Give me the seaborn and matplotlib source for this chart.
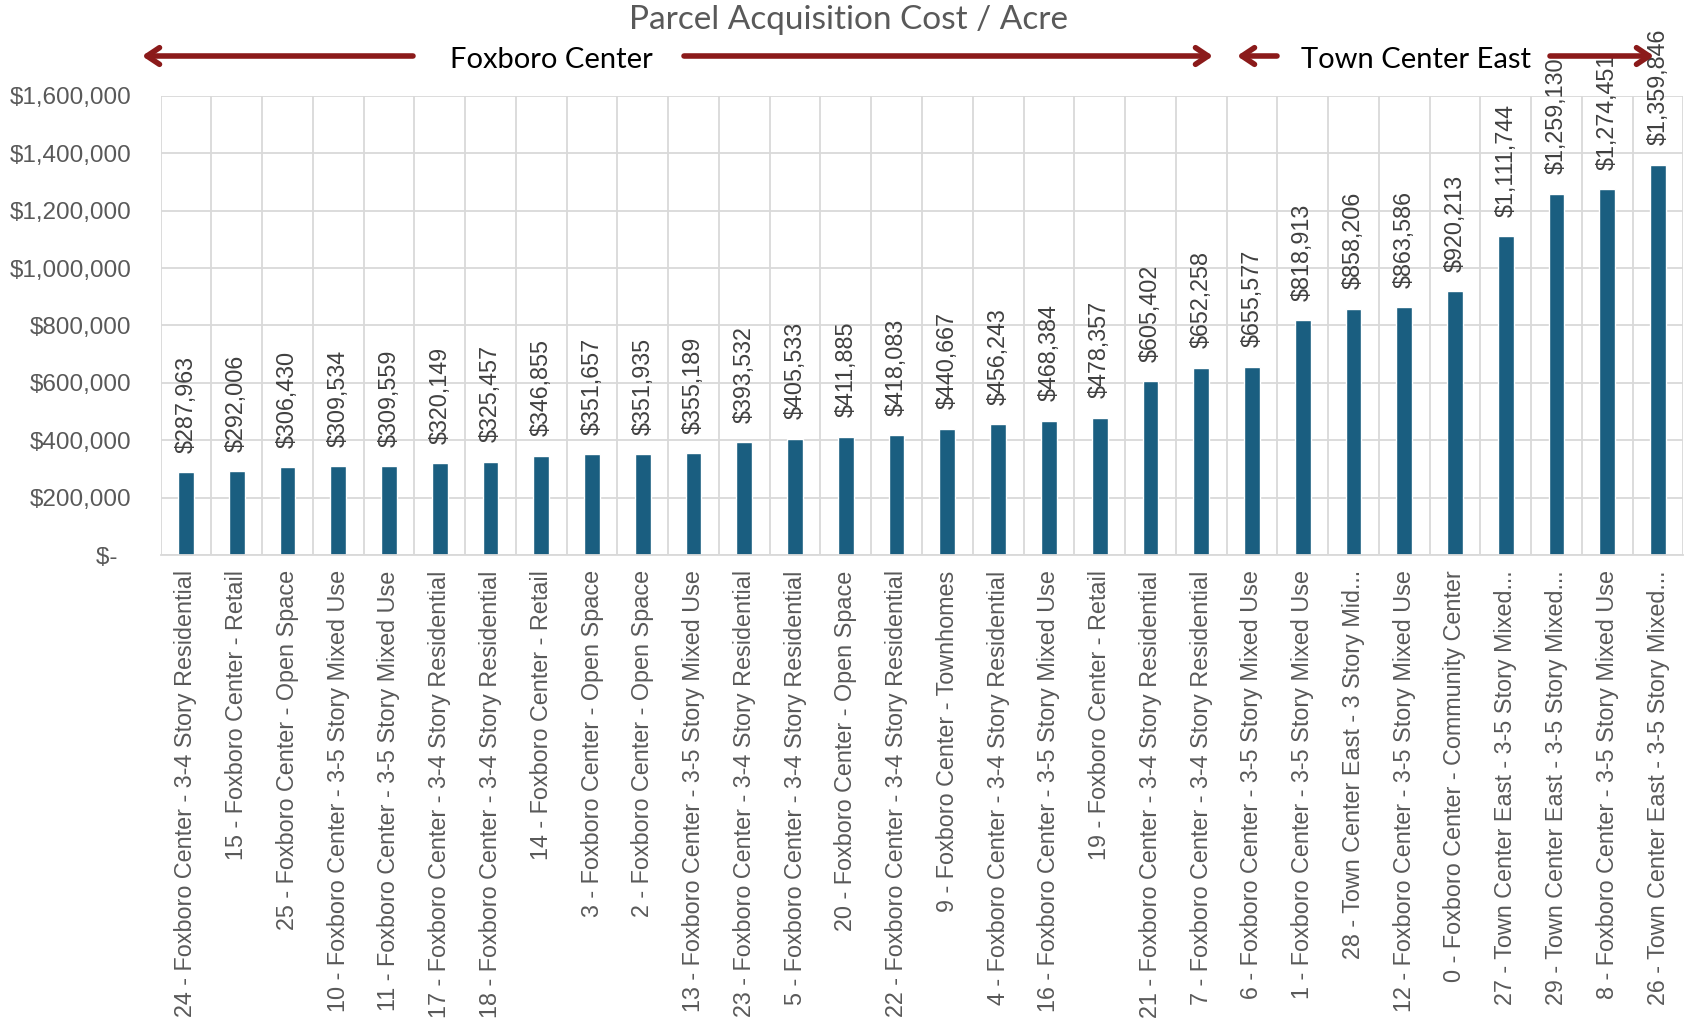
import matplotlib
matplotlib.use("Agg")
import matplotlib.pyplot as plt
from matplotlib.ticker import FuncFormatter, FixedLocator
import seaborn as sns
import pandas as pd

# Parcels, sorted by acquisition cost per acre
parcels = [
    "24 - Foxboro Center - 3-4 Story Residential",
    "15 - Foxboro Center - Retail",
    "25 - Foxboro Center - Open Space",
    "10 - Foxboro Center - 3-5 Story Mixed Use",
    "11 - Foxboro Center - 3-5 Story Mixed Use",
    "17 - Foxboro Center - 3-4 Story Residential",
    "18 - Foxboro Center - 3-4 Story Residential",
    "14 - Foxboro Center - Retail",
    "3 - Foxboro Center - Open Space",
    "2 - Foxboro Center - Open Space",
    "13 - Foxboro Center - 3-5 Story Mixed Use",
    "23 - Foxboro Center - 3-4 Story Residential",
    "5 - Foxboro Center - 3-4 Story Residential",
    "20 - Foxboro Center - Open Space",
    "22 - Foxboro Center - 3-4 Story Residential",
    "9 - Foxboro Center - Townhomes",
    "4 - Foxboro Center - 3-4 Story Residential",
    "16 - Foxboro Center - 3-5 Story Mixed Use",
    "19 - Foxboro Center - Retail",
    "21 - Foxboro Center - 3-4 Story Residential",
    "7 - Foxboro Center - 3-4 Story Residential",
    "6 - Foxboro Center - 3-5 Story Mixed Use",
    "1 - Foxboro Center - 3-5 Story Mixed Use",
    "28 - Town Center East - 3 Story Mid...",
    "12 - Foxboro Center - 3-5 Story Mixed Use",
    "0 - Foxboro Center - Community Center",
    "27 - Town Center East - 3-5 Story Mixed...",
    "29 - Town Center East - 3-5 Story Mixed...",
    "8 - Foxboro Center - 3-5 Story Mixed Use",
    "26 - Town Center East - 3-5 Story Mixed...",
]
cost_per_acre = [
    287963, 292006, 306430, 309534, 309559, 320149, 325457, 346855,
    351657, 351935, 355189, 393532, 405533, 411885, 418083, 440667,
    456243, 468384, 478357, 605402, 652258, 655577, 818913, 858206,
    863586, 920213, 1111744, 1259130, 1274451, 1359846,
]
y_ticks = [0, 200000, 400000, 600000, 800000, 1000000, 1200000, 1400000, 1600000]

BAR = "#1A5E80"
GRID = "#D9D9D9"
TEXT_GRAY = "#595959"
ARROW_RED = "#8B1A1A"

sns.set_theme(style="white")
plt.rcParams["font.family"] = ["Liberation Sans", "DejaVu Sans"]

df = pd.DataFrame({"parcel": parcels, "cost": cost_per_acre})

fig = plt.figure(figsize=(16.9, 10.21), dpi=100)
ax = fig.add_axes([0.095, 0.4564, 0.9011, 0.4496])

sns.barplot(data=df, x="parcel", y="cost", color=BAR, saturation=1,
            width=0.31, ax=ax, order=parcels)

ax.set_xlim(-0.5, len(parcels) - 0.5)
ax.set_ylim(0, 1600000)
ax.set_xlabel("")
ax.set_ylabel("")

# Gridlines: horizontal at value ticks, vertical between categories
ax.yaxis.set_major_locator(FixedLocator(y_ticks))
ax.yaxis.set_major_formatter(FuncFormatter(
    lambda v, _: "$-  " if v == 0 else f"${v:,.0f}"))
ax.xaxis.set_minor_locator(FixedLocator([i - 0.5 for i in range(len(parcels) + 1)]))
ax.grid(axis="y", which="major", color=GRID, lw=1.3)
ax.grid(axis="x", which="minor", color=GRID, lw=1.3)
ax.grid(axis="x", which="major", visible=False)
ax.set_axisbelow(True)
for s in ax.spines.values():
    s.set_visible(False)
ax.spines["bottom"].set_visible(True)
ax.spines["bottom"].set_color(GRID)
ax.spines["bottom"].set_linewidth(1.3)

ax.tick_params(axis="y", length=0, pad=21, labelsize=17.5, labelcolor=TEXT_GRAY)
ax.tick_params(axis="x", which="both", length=0, pad=11, labelsize=16.8,
               labelcolor=TEXT_GRAY)
plt.setp(ax.get_xticklabels(), rotation=90, ha="center", va="top")

# Value labels above each bar
for patch, val in zip(ax.patches, cost_per_acre):
    ax.annotate(f"${val:,.0f}",
                xy=(patch.get_x() + patch.get_width() / 2, patch.get_height()),
                xytext=(0, 14), textcoords="offset points",
                rotation=90, ha="center", va="bottom",
                fontsize=16.8, color="#404040", annotation_clip=False,
                clip_on=False)

# Title
fig.text(0.502, 1 - 20 / 1021, "Parcel Acquisition Cost / Acre", ha="center",
         va="center", fontsize=24, color=TEXT_GRAY, family="Lato")

# District banners with arrows
arrow_y = 1 - 56 / 1021
text_y = 1 - 60 / 1021
W = 1690.0

def banner_arrow(x_tail, x_tip):
    fig.add_artist(matplotlib.patches.FancyArrowPatch(
        (x_tail / W, arrow_y), (x_tip / W, arrow_y),
        transform=fig.transFigure,
        arrowstyle="->,head_length=9,head_width=6",
        color=ARROW_RED, lw=4, mutation_scale=1, shrinkA=0, shrinkB=0))

banner_arrow(413, 142)
banner_arrow(684, 1213)
banner_arrow(1277, 1237)
banner_arrow(1550, 1654)

fig.text(551 / W, text_y, "Foxboro Center", ha="center", va="center",
         fontsize=21, color="black", family="Lato")
fig.text(1416 / W, text_y, "Town Center East", ha="center", va="center",
         fontsize=21, color="black", family="Lato")

fig.savefig("out.png", dpi=100)
